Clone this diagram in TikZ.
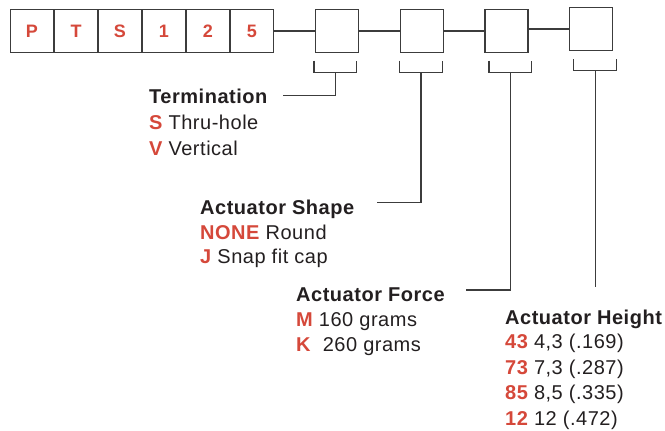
\documentclass[tikz,border=0pt]{standalone}
\usepackage{fontspec}
\setmainfont{Liberation Sans}[LetterSpace=2.6]
\definecolor{pred}{RGB}{213,72,58}
\definecolor{ink}{RGB}{35,31,32}
\definecolor{edge}{RGB}{60,60,60}
\tikzset{
  cell/.style={draw=edge, line width=1.3pt, minimum width=43pt, minimum height=43pt, inner sep=0pt, fill=white,
    font=\bfseries\fontsize{18}{18}\selectfont, text=pred},
  wire/.style={draw=edge, line width=1.3pt},
  lbl/.style={anchor=base west, inner sep=0pt, text=ink, font=\fontsize{20}{20}\selectfont},
  ttl/.style={lbl, font=\bfseries\fontsize{20}{20}\selectfont}
}
\newcommand{\rd}[1]{\textcolor{pred}{\bfseries #1}}
\begin{document}
\begin{tikzpicture}[x=1pt,y=-1pt]
\useasboundingbox (0,0) rectangle (665,431);
% code boxes
\node[cell] (p1) at (32,31) {P};
\node[cell] (p2) at (76,31) {T};
\node[cell] (p3) at (120,31) {S};
\node[cell] (p4) at (164,31) {1};
\node[cell] (p5) at (208,31) {2};
\node[cell] (p6) at (252,31) {5};
% empty boxes
\node[cell] (e1) at (336.7,31) {};
\node[cell] (e2) at (421.7,31) {};
\node[cell] (e3) at (506.5,31) {};
\node[cell] (e4) at (591,29) {};
\draw[wire] (p6.east) -- (e1.west);
\draw[wire] (e1.east) -- (e2.west);
\draw[wire] (e2.east) -- (e3.west);
\draw[wire] ([yshift=2pt]e3.east) -- (e4.west);
% brackets
\draw[wire] (314,60.7) -- (314,72.3) -- (356.7,72.3) -- (356.7,60.7);
\draw[wire] (399.3,60.7) -- (399.3,72.3) -- (442.3,72.3) -- (442.3,60.7);
\draw[wire] (489,60.7) -- (489,72.3) -- (531.3,72.3) -- (531.3,60.7);
\draw[wire] (573.7,59.3) -- (573.7,70.7) -- (616.3,70.7) -- (616.3,59.3);
\coordinate (bA) at (335.7,72.3);
\coordinate (bB) at (421,72.3);
\coordinate (bC) at (510.3,72.3);
\coordinate (bD) at (595.7,70.7);
% labels
\node[ttl] (tTerm) at (149,103.5) {Termination};
\node[lbl] (s1) at (149,129.3) {\rd{S} Thru-hole};
\node[lbl] (s2) at (149,155) {\rd{V} Vertical};
\node[ttl] (tShape) at (200,214) {Actuator Shape};
\node[lbl] (h1) at (200,239.3) {\rd{NONE} Round};
\node[lbl] (h2) at (200,263.3) {\rd{J} Snap fit cap};
\node[ttl] (tForce) at (296,301) {Actuator Force};
\node[lbl] (f1) at (296,326) {\rd{M} 160 grams};
\node[lbl] (f2) at (296,351) {\rd{K}\ \ 260 grams};
\node[ttl] (tHeight) at (505,324) {Actuator Height};
\node[lbl] (g1) at (505,348.7) {\rd{43} 4,3 (.169)};
\node[lbl] (g2) at (505,374.3) {\rd{73} 7,3 (.287)};
\node[lbl] (g3) at (505,399.3) {\rd{85} 8,5 (.335)};
\node[lbl] (g4) at (505,425) {\rd{12} 12 (.472)};
% leader ends
\coordinate (lA) at (282.7,95.3);
\coordinate (lB) at (376.7,202.7);
\coordinate (lC) at (465.7,290);
\coordinate (lD) at (595.7,287.3);
\draw[wire] (bA) |- (lA);
\draw[wire] (bB) |- (lB);
\draw[wire] (bC) |- (lC);
\draw[wire] (bD) -- (lD);
\end{tikzpicture}
\end{document}
